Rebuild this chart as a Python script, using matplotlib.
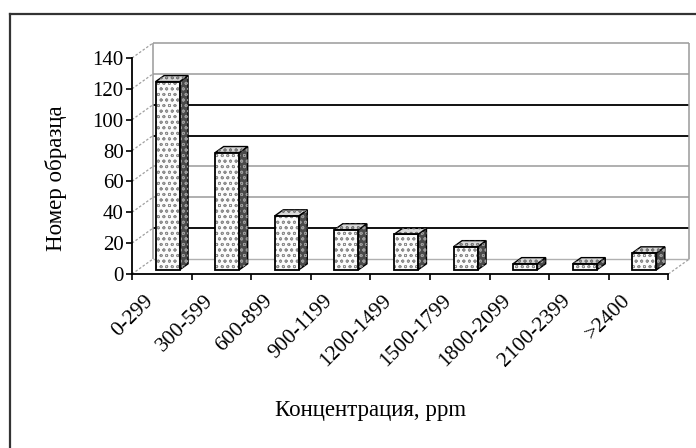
import matplotlib.pyplot as plt
from matplotlib.lines import Line2D

categories = ["0-299", "300-599", "600-899", "900-1199", "1200-1499",
              "1500-1799", "1800-2099", "2100-2399", ">2400"]
counts = [122, 76, 35, 26, 23, 15, 4, 4, 11]
y_ticks = [0, 20, 40, 60, 80, 100, 120, 140]

# dark / grey gridlines on the back wall as they show in the picture
grid_colors = {20: "#111111", 40: "#9a9a9a", 60: "#9a9a9a", 80: "#111111",
               100: "#111111", 120: "#9a9a9a", 140: "#9a9a9a"}

plt.rcParams["font.family"] = ["Liberation Serif", "DejaVu Serif"]
plt.rcParams["hatch.linewidth"] = 0.6

W, H = 696, 448
X0, Y0 = 132, 274          # pixel of the front origin (from the top)
CW = 59.6                  # px per category
SY = 216 / 140             # px per unit
DX = 21 / CW               # depth offset in x (category units)
DY = 15 / SY               # depth offset in y (value units)

fig = plt.figure(figsize=(W / 100, H / 100), dpi=100)
xmax, ymax = 9.6, 153
ax = fig.add_axes([X0 / W, (H - Y0) / H, xmax * CW / W, ymax * SY / H])
ax.set_xlim(0, xmax)
ax.set_ylim(0, ymax)
ax.patch.set_visible(False)

n = len(categories)

# back wall
for t in y_ticks[1:]:
    lw = 1.4 if grid_colors[t] == "#111111" else 1.1
    ax.hlines(t + DY, DX, n + DX, colors=grid_colors[t], lw=lw, zorder=1)
ax.hlines(DY, DX, n + DX, colors="#b0b0b0", lw=1.0, zorder=1)
ax.vlines([DX, n + DX], DY, 140 + DY, colors="#9a9a9a", lw=1.1, zorder=1)
for t in y_ticks:
    ax.plot([0, DX], [t, t + DY], color="#a0a0a0", lw=0.9, ls=(0, (2, 1.5)), zorder=1)
ax.plot([n, n + DX], [0, DY], color="#a0a0a0", lw=0.9, ls=(0, (2, 1.5)), zorder=1)

# bars (front face, side face, top)
f0, f1 = 0.28, 0.68
bw = 24 / CW
xs = [i + 0.5 + f0 * DX for i in range(n)]
ax.bar(xs, counts, width=bw, bottom=f0 * DY, color="#fbfbfb", hatch="ooo",
       edgecolor="#8c8c8c", linewidth=0, zorder=3)
ax.bar(xs, counts, width=bw, bottom=f0 * DY, fill=False,
       edgecolor="black", linewidth=1.3, zorder=4)
ddx, ddy = (f1 - f0) * DX, (f1 - f0) * DY
for x, v in zip(xs, counts):
    xl, xr = x - bw / 2, x + bw / 2
    yb, yt = f0 * DY, f0 * DY + v
    ax.fill([xr, xr + ddx, xr + ddx, xr], [yb, yb + ddy, yt + ddy, yt],
            facecolor="#4a4a4a", edgecolor="black", lw=1.0, zorder=3)
    ax.fill([xr, xr + ddx, xr + ddx, xr], [yb, yb + ddy, yt + ddy, yt],
            fill=False, hatch="ooo", edgecolor="#9a9a9a", lw=0, zorder=3)
    ax.fill([xl, xr, xr + ddx, xl + ddx], [yt, yt, yt + ddy, yt + ddy],
            facecolor="#d8d8d8", edgecolor="black", lw=1.0, zorder=3)
    ax.fill([xl, xr, xr + ddx, xl + ddx], [yt, yt, yt + ddy, yt + ddy],
            fill=False, hatch="ooo", edgecolor="#777777", lw=0, zorder=3)

# axes
for s in ["top", "right"]:
    ax.spines[s].set_visible(False)
ax.spines["left"].set_bounds(0, 140)
ax.spines["bottom"].set_bounds(0, n)
ax.spines["left"].set_linewidth(1.3)
ax.spines["bottom"].set_linewidth(1.3)
ax.set_yticks(y_ticks)
ax.set_xticks(range(n + 1), [""] * (n + 1))
ax.tick_params(axis="y", direction="out", length=4, width=1.2, pad=2, labelsize=15)
ax.tick_params(axis="x", direction="out", length=4, width=1.2)

for i, lab in enumerate(categories):
    ax.text(i + 0.5 - 11 / CW, -24 / SY, lab, rotation=45, rotation_mode="anchor",
            ha="right", va="center", fontsize=15.5, clip_on=False)

fig.text(56 / W, 1 - 178 / H, "Номер образца", rotation=90, ha="center",
         va="center", fontsize=16.5)
fig.text(371 / W, 1 - 410 / H, "Концентрация, ppm", ha="center", va="center",
         fontsize=16.5)

# chart frame (only left and top edges are inside the picture)
fig.add_artist(Line2D([10 / W, 10 / W], [0, 1 - 14 / H], color="#333333", lw=1.6))
fig.add_artist(Line2D([10 / W, 1], [1 - 14 / H, 1 - 14 / H], color="#333333", lw=1.6))

fig.savefig("out.png", dpi=100)
